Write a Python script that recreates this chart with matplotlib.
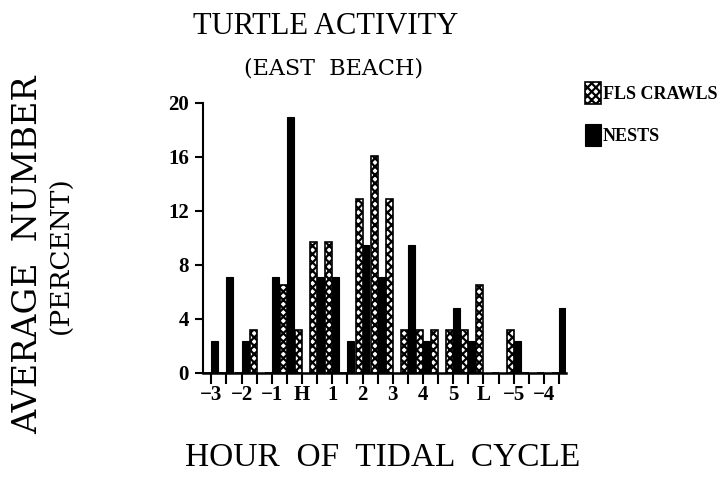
import numpy as np
import matplotlib
matplotlib.use('Agg')
import matplotlib.pyplot as plt

# half-hour steps of the tidal cycle, -3 ... -4
slots = np.arange(24)
tick_labels = ['\u22123', '\u22122', '\u22121', 'H', '1', '2', '3', '4', '5', 'L', '\u22125', '\u22124']

crawls = [0, 0, 0, 3.2, 0, 6.5, 3.2, 9.7, 9.7, 0, 12.9, 16.1,
          12.9, 3.2, 3.2, 3.2, 3.2, 3.2, 6.5, 0, 3.2, 0, 0, 0]
nests = [2.4, 7.1, 2.4, 0, 7.1, 19.0, 0, 7.1, 7.1, 2.4, 9.5, 7.1,
         0, 9.5, 2.4, 0, 4.8, 2.4, 0, 0, 2.4, 0, 0, 4.8]

plt.rcParams['hatch.linewidth'] = 1.6
serif = ['Liberation Serif', 'DejaVu Serif']

fig = plt.figure(figsize=(7.28, 4.82), dpi=100)
ax = fig.add_axes([203/728, 1 - 373/482, (566 - 203)/728, 270/482])

w = 0.46
ax.bar(slots - w, crawls, w, align='edge', color='white', edgecolor='black',
       hatch='xxxx', linewidth=1.2, label='FLS CRAWLS')
ax.bar(slots, nests, w, align='edge', color='black', edgecolor='black',
       linewidth=0.8, label='NESTS')

ax.set_xlim(-0.55, 23 + w)
ax.set_ylim(0, 20)
ax.spines['top'].set_visible(False)
ax.spines['right'].set_visible(False)
ax.spines['left'].set_linewidth(1.5)
ax.spines['bottom'].set_linewidth(1.8)
ax.spines['left'].set_bounds(0, 20)

ax.set_yticks([0, 4, 8, 12, 16, 20])
ax.set_xticks(slots)
ax.set_xticklabels([tick_labels[i // 2] if i % 2 == 0 else '' for i in slots])
ax.tick_params(axis='y', direction='out', length=6, width=1.5, pad=4)
ax.tick_params(axis='x', direction='out', length=8, width=1.5, pad=1)
for lab in ax.get_xticklabels() + ax.get_yticklabels():
    lab.set_family(serif)
    lab.set_fontweight('bold')
    lab.set_fontsize(15)

fig.text(326/728, 1 - 27/482, 'TURTLE ACTIVITY', ha='center', va='center',
         family=serif, fontsize=22)
fig.text(334/728, 1 - 68/482, '(EAST  BEACH)', ha='center', va='center',
         family=['DejaVu Serif'], fontsize=16)
fig.text(28/728, 1 - 255/482, 'AVERAGE  NUMBER', ha='center', va='center',
         rotation=90, family=['DejaVu Serif'], fontsize=24)
fig.text(61/728, 1 - 255/482, '(PERCENT)', ha='center', va='center',
         rotation=90, family=['DejaVu Serif'], fontsize=19)
fig.text(383/728, 1 - 458/482, 'HOUR  OF  TIDAL  CYCLE', ha='center', va='center',
         family=serif, fontsize=24)

leg = fig.legend(loc='upper left', bbox_to_anchor=(578/728, 1 - 75/482),
                 frameon=False, handlelength=0.85, handleheight=1.5,
                 handletextpad=0.12, labelspacing=1.1, borderaxespad=0,
                 prop={'family': serif, 'weight': 'bold', 'size': 13})

fig.savefig('out.png', dpi=100)
